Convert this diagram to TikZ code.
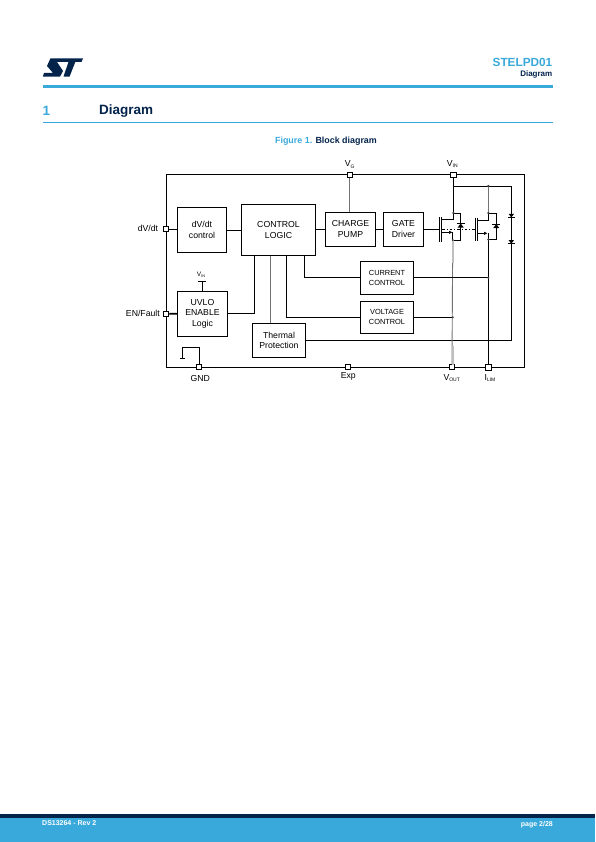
\documentclass[tikz,border=0pt]{standalone}
\usepackage{fontspec}
\setmainfont{Liberation Sans}
\usetikzlibrary{arrows.meta}
\definecolor{stblue}{HTML}{39A9DC}
\definecolor{stnavy}{HTML}{03234B}
\newcommand{\lowtext}[2]{#1\raisebox{-1.6pt}{\fontsize{5}{5}\selectfont #2}}
\tikzset{
  block/.style={draw,line width=.9pt,inner sep=0pt,align=center,font=\fontsize{8.7}{10.6}\selectfont},
  smallblock/.style={block,font=\fontsize{7.4}{10}\selectfont},
  pad/.style={draw,fill=white,line width=.9pt,inner sep=0pt,minimum width=5pt,minimum height=5pt},
  widepad/.style={pad,minimum width=6.5pt,minimum height=5.5pt},
  tag/.style={inner sep=0pt,font=\fontsize{8.7}{10}\selectfont},
  wire/.style={line width=.9pt},
  graywire/.style={line width=.9pt,color=black!55},
  junction/.style={circle,fill=black!75,inner sep=0pt,minimum size=2.4pt},
}
\begin{document}
\begin{tikzpicture}[x=1pt,y=-1pt]
  \useasboundingbox (0,0) rectangle (595,842);
  % page header
  \fill[stnavy] (50.5,58.3)--(83,58.3)--(81.5,62)--(57,62)--(63,71)--(60,76.7)--(42.8,76.7)--(44,73)--(53,73)--(47,66)--cycle;
  \fill[stnavy] (68.6,61.5)--(63.5,76.7)--(69.5,76.7)--(75.5,61.5)--cycle;
  \node[anchor=east,inner sep=0pt,text=stblue,font=\fontsize{11.8}{12}\selectfont\bfseries] (partname) at (552.5,62) {STELPD01};
  \node[anchor=east,inner sep=0pt,text=stnavy,font=\fontsize{8}{9}\selectfont\bfseries] (headtitle) at (552.5,74) {Diagram};
  \fill[stblue] (42.5,85) rectangle (553,88);
  \node[anchor=west,inner sep=0pt,text=stblue,font=\fontsize{13.5}{14}\selectfont\bfseries] (secnum) at (42.5,111) {1};
  \node[anchor=west,inner sep=0pt,text=stnavy,font=\fontsize{13.5}{14}\selectfont\bfseries] (sectitle) at (99,111) {Diagram};
  \draw[stblue,line width=.8pt] (42.5,122.5)--(553,122.5);
  \node[inner sep=0pt,font=\fontsize{8.9}{10}\selectfont\bfseries] (caption) at (326,141) {\textcolor{stblue}{Figure 1.} \textcolor{stnavy}{Block diagram}};
  % outer frame
  \draw[wire] (166.3,174.5) rectangle (524.3,367.3);
  % blocks
  \node[block,minimum width=49.4pt,minimum height=45pt] (dvdt) at (202,229.8) {dV/dt\\control};
  \node[block,minimum width=74.4pt,minimum height=51.4pt] (logic) at (278.5,230) {CONTROL\\LOGIC};
  \node[block,minimum width=50.4pt,minimum height=34pt] (pump) at (350.5,229.3) {CHARGE\\PUMP};
  \node[block,minimum width=40.4pt,minimum height=34pt] (driver) at (403.5,229.3) {GATE\\Driver};
  \node[smallblock,minimum width=53.4pt,minimum height=33pt] (current) at (387,277.8) {CURRENT\\CONTROL};
  \node[smallblock,minimum width=53.4pt,minimum height=32pt] (voltage) at (387,317.3) {VOLTAGE\\CONTROL};
  \node[block,minimum width=50.4pt,minimum height=45pt] (uvlo) at (202.5,313.8) {UVLO\\ENABLE\\Logic};
  \node[block,minimum width=53.4pt,minimum height=34pt] (thermal) at (279,340.3) {Thermal\\Protection};
  % fixed points of the power stage
  \coordinate (vinjoin) at (453.3,186);
  \coordinate (topjoin) at (488.3,186);
  \coordinate (railtop) at (511.3,186);
  \coordinate (railend) at (511.3,340.3);
  \coordinate (onedrain) at (453.3,213);
  \coordinate (onetail) at (460.7,213);
  \coordinate (onelow) at (460.7,240);
  \coordinate (onesrc) at (452.7,240);
  \coordinate (twodrain) at (488.3,213);
  \coordinate (twotail) at (496.3,213);
  \coordinate (twolow) at (496.3,239.5);
  \coordinate (twosrc) at (488.3,239.5);
  \coordinate (onegate) at (439.6,229.3);
  \coordinate (vintee) at (202.3,281.7);
  \coordinate (gndloop) at (182.2,347.3);
  % connectors
  \draw[wire] (dvdt.east|-logic.west)--(logic.west);
  \draw[wire] (logic.east|-pump.west)--(pump.west);
  \draw[wire] (pump.east)--(driver.west);
  \draw[wire] (driver.east)--(onegate);
  \draw[wire] (uvlo.east)-|(254.7,255.7);
  \draw[wire] (286.3,255.7)|-(voltage.west);
  \draw[wire] (304.3,255.7)|-(current.west);
  \draw[graywire] (270.3,255.7)--(270.3,323.3);
  \draw[wire] (thermal.east)--(railend)--(railtop)--(vinjoin);
  % mosfets
  \draw[wire] (onedrain)--(onetail)--(onelow)--(onesrc);
  \draw[wire] (441.7,219.5)-|(onedrain);
  \draw[wire] (twodrain)--(twotail)--(twolow)--(twosrc);
  \draw[wire] (477,220)-|(twodrain);
  \draw[line width=1pt] (439.6,217.5)--(439.6,241.5);
  \draw[line width=1pt] (475.3,217.7)--(475.3,241.3);
  \draw[wire] (441.7,217.5)--(441.7,241.5);
  \draw[wire] (477,217.7)--(477,241.3);
  \draw[wire,-{Latex[length=3.5pt,width=3.5pt]}] (441.7,232.3)--(452.5,232.3);
  \draw[wire,-{Latex[length=3.5pt,width=3.5pt]}] (477,233.3)--(487.5,233.3);
  \draw[wire] (452.7,232.3)--(onesrc);
  \draw[wire] (488.3,233.3)--(twosrc);
  \draw[wire,dash pattern=on 2.5pt off 2pt on 1pt off 2pt] (442,229.3)--(475,229.3);
  % diodes
  \foreach \x/\y in {460.7/225.5,496.3/226}{
    \fill (\x,\y-2)--(\x-3,\y+2)--(\x+3,\y+2)--cycle;
    \draw[wire] (\x-4,\y-2)--(\x+4,\y-2);
  }
  \foreach \x/\y in {511.3/215.5,511.3/241.7}{
    \fill (\x,\y+2)--(\x-2.6,\y-1.5)--(\x+2.6,\y-1.5)--cycle;
    \draw[wire] (\x-3.5,\y+2)--(\x+3.5,\y+2);
  }
  % side leads
  \draw[wire] (uvlo.north-|vintee)--(vintee);
  \draw[wire] (197.7,281.7)--(206.2,281.7);
  \draw[wire] (gndloop)--(182.2,358.3);
  \draw[wire] (180,358.5)--(185,358.5);
  % pads
  \foreach \n/\x/\y in {padslope/166.3/229.3,padgnd/199/367.3,padexp/348/367.3,padout/452/367.3,padg/349.7/175}{
    \node[pad] (\n) at (\x,\y) {};
  }
  \node[widepad] (padin) at (453.3,175) {};
  \node[widepad] (padlim) at (488.3,367.3) {};
  \node[pad] (paden) at (166.3,313.7) {};
  \draw[wire] (padslope.east)--(padslope.east-|dvdt.west);
  \draw[line width=1.6pt] (paden.east)--(uvlo.west);
  \draw[wire] (padgnd.north)|-(gndloop);
  \draw[wire] (padin.south)--(onedrain);
  \draw[wire] (vinjoin)--(topjoin);
  \draw[graywire] (topjoin)--(twodrain);
  \draw[graywire] (padg.south)--(pump.north-|padg);
  \draw[wire] (twosrc)--(padlim.north);
  \draw[graywire] (onesrc)--(padout.north);
  \draw[black!25,line width=1.7pt] (onesrc)--(452.7,263);
  \draw[black!25,line width=1.7pt] (452.7,346)--(452.7,364.5);
  \draw[wire] (current.east)--(488.3,277.8);
  \draw[wire] (voltage.east)--(452.7,317.3);
  % junctions
  \foreach \n/\x/\y in {jone/453.3/213,jtwo/488.3/186,jthree/488.3/213,jfour/488.3/277.8,jfive/452.7/317.3,jsix/452.7/240,jseven/488.3/239.5}{
    \node[junction] (\n) at (\x,\y) {};
  }
  % labels
  \node[tag,anchor=east] (labslope) at (158.3,228) {dV/dt};
  \node[tag,anchor=east] (laben) at (160,313.7) {EN/Fault};
  \node[tag] (labgnd) at (200.3,378.7) {GND};
  \node[tag] (labexp) at (348.3,376) {Exp};
  \node[tag] (labout) at (451.7,378) {\lowtext{V}{OUT}};
  \node[tag] (lablim) at (490,378) {\lowtext{I}{LIM}};
  \node[tag] (labg) at (349.7,164.5) {\lowtext{V}{G}};
  \node[tag] (labin) at (452.3,164) {\lowtext{V}{IN}};
  \node[tag,font=\fontsize{6.5}{7}\selectfont] (labvin) at (201,275) {V\raisebox{-1.2pt}{\fontsize{3.8}{4}\selectfont IN}};
  % page footer
  \fill[stnavy] (0,814) rectangle (595,818);
  \fill[stblue] (0,818) rectangle (595,842);
  \node[anchor=west,inner sep=0pt,text=white,font=\fontsize{7}{8}\selectfont\bfseries] (docid) at (42,823.5) {DS13264 - Rev 2};
  \node[anchor=east,inner sep=0pt,text=white,font=\fontsize{7}{8}\selectfont\bfseries] (pageno) at (553,824.5) {page 2/28};
\end{tikzpicture}
\end{document}
